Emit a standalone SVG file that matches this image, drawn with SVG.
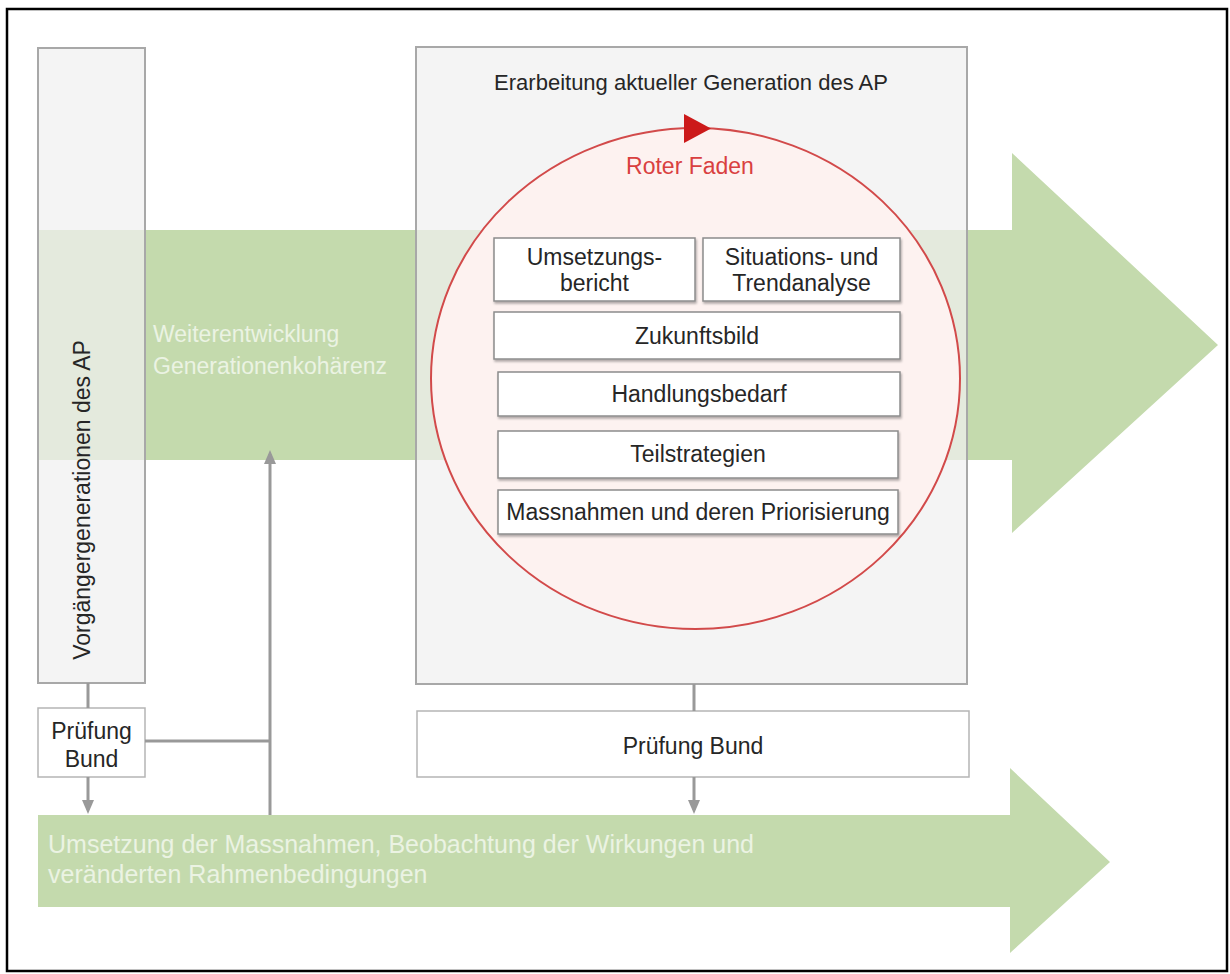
<svg xmlns="http://www.w3.org/2000/svg" width="1230" height="974" viewBox="0 0 1230 974">
<defs>
<style>
.t{font-family:"Liberation Sans",Arial,sans-serif;fill:#262626;font-size:23px;text-anchor:middle}
.g{font-family:"Liberation Sans",Arial,sans-serif;fill:#ebf3e3;font-size:25px}
.band{fill:#c4daad}
.panel{fill:#f0f0f0;fill-opacity:0.72;stroke:#a8a8a8;stroke-width:2}
.box{fill:#ffffff;stroke:#8c8c8c;stroke-width:1.5}
.pbox{fill:#ffffff;stroke:#b5b5b5;stroke-width:1.5}
.conn{stroke:#999999;stroke-width:3;fill:none}
</style>
<marker id="ah" viewBox="0 0 14 12" refX="10" refY="6" markerWidth="14" markerHeight="12" markerUnits="userSpaceOnUse" orient="auto"><path d="M0,0 L14,6 L0,12 z" fill="#999999"/></marker>
<filter id="sh" x="-5%" y="-20%" width="110%" height="150%"><feDropShadow dx="1" dy="2" stdDeviation="1" flood-color="#000" flood-opacity="0.3"/></filter>
</defs>
<rect x="7" y="9" width="1220" height="962" fill="#ffffff" stroke="#000000" stroke-width="2.5"/>
<g id="band-top"><polygon class="band" points="38,230 1012,230 1012,153 1218,345 1012,533 1012,460 38,460"/></g>
<g id="band-bottom"><polygon class="band" points="38,815 1010,815 1010,768 1110,862 1010,953 1010,907 38,907"/></g>
<g id="vorgaenger">
<rect class="panel" x="38" y="48" width="107" height="635"/>
<text class="t" transform="translate(90,500) rotate(-90)" x="0" y="0">Vorgängergenerationen des AP</text>
</g>
<g id="aktuell">
<rect class="panel" x="416" y="47" width="551" height="637"/>
<text class="t" x="691" y="90" style="font-size:22px">Erarbeitung aktueller Generation des AP</text>
</g>
<g id="roter-faden">
<ellipse cx="695.5" cy="378.5" rx="264.5" ry="250.5" fill="#fdf2f0" stroke="#d24a4a" stroke-width="2"/>
<polygon points="684,114 711,128.5 684,143" fill="#cc1a1a"/>
<text class="t" x="690" y="174" style="fill:#d9403f">Roter Faden</text>
</g>
<g id="umsetzungsbericht">
<rect class="box" filter="url(#sh)" x="494" y="238" width="201" height="63"/>
<text class="t" x="594.5" y="265">Umsetzungs-</text>
<text class="t" x="594.5" y="291">bericht</text>
</g>
<g id="situationsanalyse">
<rect class="box" filter="url(#sh)" x="703" y="238" width="197" height="63"/>
<text class="t" x="801.5" y="265">Situations- und</text>
<text class="t" x="801.5" y="291">Trendanalyse</text>
</g>
<g id="zukunftsbild">
<rect class="box" filter="url(#sh)" x="494" y="312" width="406" height="47"/>
<text class="t" x="697" y="344">Zukunftsbild</text>
</g>
<g id="handlungsbedarf">
<rect class="box" filter="url(#sh)" x="498" y="372" width="402" height="44"/>
<text class="t" x="699" y="402">Handlungsbedarf</text>
</g>
<g id="teilstrategien">
<rect class="box" filter="url(#sh)" x="498" y="431" width="400" height="47"/>
<text class="t" x="698" y="462">Teilstrategien</text>
</g>
<g id="massnahmen">
<rect class="box" filter="url(#sh)" x="498" y="490" width="400" height="44"/>
<text class="t" x="698" y="520">Massnahmen und deren Priorisierung</text>
</g>
<g id="pruefung-links">
<rect class="pbox" x="38" y="708" width="107" height="69"/>
<text class="t" x="91.5" y="739">Prüfung</text>
<text class="t" x="91.5" y="767">Bund</text>
</g>
<g id="pruefung-rechts">
<rect class="pbox" x="417" y="711" width="552" height="66"/>
<text class="t" x="693" y="754">Prüfung Bund</text>
</g>
<g id="weiterentwicklung-label">
<text class="g" x="153" y="342" style="font-size:23px">Weiterentwicklung</text>
<text class="g" x="153" y="374" style="font-size:23px">Generationenkohärenz</text>
</g>
<g id="umsetzung-label">
<text class="g" x="48" y="853">Umsetzung der Massnahmen, Beobachtung der Wirkungen und</text>
<text class="g" x="48" y="883">veränderten Rahmenbedingungen</text>
</g>
<g id="connectors">
<line class="conn" x1="88" y1="683" x2="88" y2="708"/>
<line class="conn" x1="88" y1="777" x2="88" y2="810" marker-end="url(#ah)"/>
<line class="conn" x1="145" y1="741" x2="270" y2="741"/>
<line class="conn" x1="270" y1="815" x2="270" y2="454" marker-end="url(#ah)"/>
<line class="conn" x1="694" y1="684" x2="694" y2="711"/>
<line class="conn" x1="694" y1="777" x2="694" y2="810" marker-end="url(#ah)"/>
</g>
</svg>
